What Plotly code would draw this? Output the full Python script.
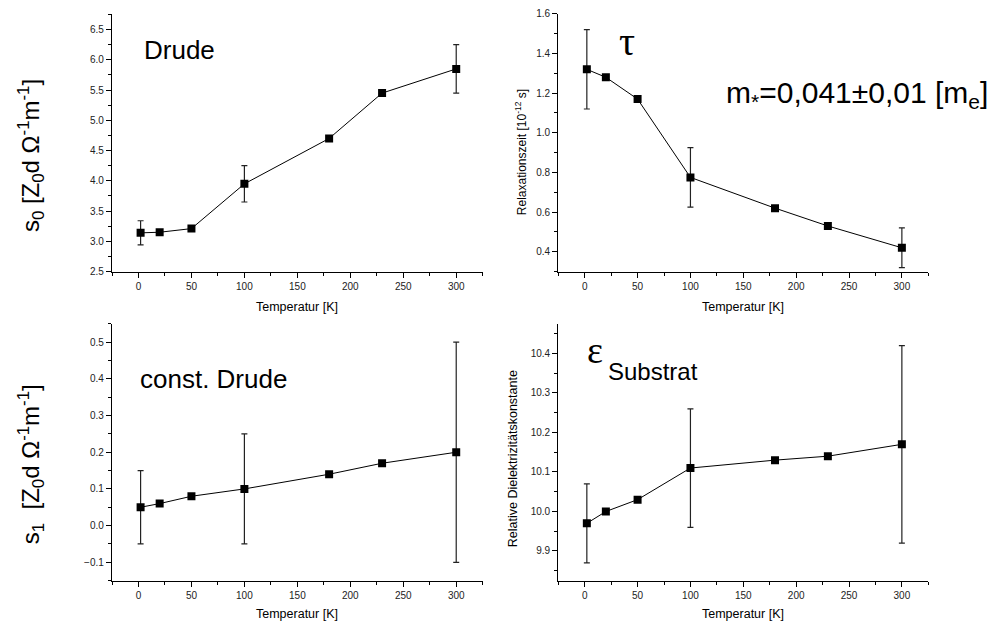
import plotly.graph_objects as go

W, H = 1003, 634

# ---------------- data ----------------
temperature = [2, 20, 50, 100, 180, 230, 300]

s0_values = [3.14, 3.15, 3.21, 3.95, 4.70, 5.45, 5.85]
s0_errors = [0.20, None, None, 0.30, None, None, 0.40]

tau_values = [1.32, 1.28, 1.17, 0.775, 0.62, 0.53, 0.42]
tau_errors = [0.20, None, None, 0.15, None, None, 0.10]

s1_values = [0.05, 0.06, 0.08, 0.10, 0.14, 0.17, 0.20]
s1_errors = [0.10, None, None, 0.15, None, None, 0.30]

eps_values = [9.97, 10.00, 10.03, 10.11, 10.13, 10.14, 10.17]
eps_errors = [0.10, None, None, 0.15, None, None, 0.25]

x_tick_step = 50
# --------------------------------------


def px_x(x):
    return x / W


def px_y(y):
    return 1 - y / H


FONT = "Liberation Sans, Arial, sans-serif"
SERIF = "Liberation Serif, DejaVu Serif, serif"

fig = go.Figure()

panels = [
    ("x", "y", s0_values, s0_errors),
    ("x2", "y2", tau_values, tau_errors),
    ("x3", "y3", s1_values, s1_errors),
    ("x4", "y4", eps_values, eps_errors),
]

for xa, ya, vals, errs in panels:
    fig.add_trace(go.Scatter(
        x=temperature, y=vals, xaxis=xa, yaxis=ya,
        mode="lines+markers",
        line=dict(color="black", width=1),
        marker=dict(symbol="square", size=8, color="black"),
        error_y=dict(type="data", array=errs, visible=True,
                     thickness=1.2, width=3, color="#222222"),
        showlegend=False, hoverinfo="x+y",
    ))

left_dom = [px_x(112), px_x(482.7)]
right_dom = [px_x(558.3), px_x(928.3)]
top_dom = [px_y(270.7), px_y(8)]
bot_dom = [px_y(585.7), px_y(324)]

common_axis = dict(
    showline=True, linecolor="black", linewidth=1.3,
    showgrid=False, zeroline=False,
    ticks="outside", ticklen=5, tickwidth=1, tickcolor="black",
    tickfont=dict(family=FONT, size=10, color="#222222"),
)


def xaxis(domain, anchor):
    return dict(common_axis, domain=domain, anchor=anchor, range=[-25, 325],
                tick0=0, dtick=x_tick_step,
                minor=dict(dtick=x_tick_step / 2, tick0=0, ticks="outside",
                           ticklen=3, tickcolor="black"))


def yaxis(domain, anchor, rng, dtick, tick0, fmt):
    return dict(common_axis, domain=domain, anchor=anchor, range=rng,
                tick0=tick0, dtick=dtick, tickformat=fmt,
                minor=dict(dtick=dtick / 2, tick0=tick0, ticks="outside",
                           ticklen=3, tickcolor="black"))


fig.update_layout(
    width=W, height=H,
    margin=dict(l=0, r=0, t=0, b=0),
    paper_bgcolor="white", plot_bgcolor="white",
    font=dict(family=FONT, color="black"),
    xaxis=xaxis(left_dom, "y"),
    yaxis=yaxis(top_dom, "x", [2.5, 6.76], 0.5, 2.5, ".1f"),
    xaxis2=xaxis(right_dom, "y2"),
    yaxis2=yaxis(top_dom, "x2", [0.3, 1.6], 0.2, 0.4, ".1f"),
    xaxis3=xaxis(left_dom, "y3"),
    yaxis3=yaxis(bot_dom, "x3", [-0.15, 0.55], 0.1, 0.0, ".1f"),
    xaxis4=xaxis(right_dom, "y4"),
    yaxis4=yaxis(bot_dom, "x4", [9.825, 10.475], 0.1, 9.9, ".1f"),
)

ann = []


def add_text(text, x, y, size, xanchor="center", yanchor="middle", angle=0,
             family=FONT):
    ann.append(dict(text=text, x=px_x(x), y=px_y(y), xref="paper", yref="paper",
                    xanchor=xanchor, yanchor=yanchor, textangle=angle,
                    showarrow=False, font=dict(family=family, size=size, color="black")))


# panel labels
add_text("Drude", 142, 45, 26, xanchor="left")
add_text("const. Drude", 138, 380, 26, xanchor="left")
add_text("τ", 627, 36, 40, family=SERIF)
add_text("m<sub>*</sub>=0,041±0,01 [m<sub>e</sub>]", 724, 90, 30, xanchor="left")
add_text("ε", 595, 351, 38, family=SERIF)
add_text("Substrat", 606, 373, 24, xanchor="left")

# y titles
add_text("s<sub>0</sub> [Z<sub>0</sub>d Ω<sup>-1</sup>m<sup>-1</sup>]", 31, 153, 24, angle=-90)
add_text("s<sub>1</sub>\u00a0\u00a0[Z<sub>0</sub>d Ω<sup>-1</sup>m<sup>-1</sup>]", 31, 467, 24, angle=-90)
add_text("Relaxationszeit [10<sup>-12</sup> s]", 521, 149, 12, angle=-90)
add_text("Relative Dielektrizitätskonstante", 513, 462, 12.5, angle=-90)

# x titles
for cx in (297.3, 743.3):
    add_text("Temperatur [K]", cx, 307, 12.5)
    add_text("Temperatur [K]", cx, 620, 12.5)

fig.update_layout(annotations=ann)

fig.write_html("out.html")
